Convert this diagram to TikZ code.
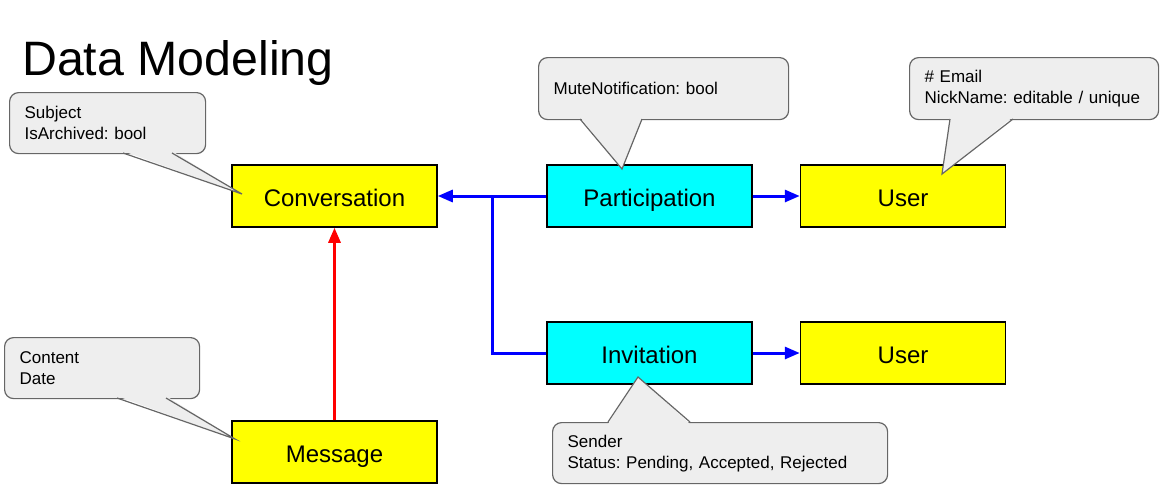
\documentclass[tikz,border=0pt]{standalone}
\usepackage{fontspec}
\setmainfont{Liberation Sans}
\usetikzlibrary{arrows.meta}
\frenchspacing
\definecolor{calloutfill}{HTML}{EEEEEE}
\definecolor{calloutline}{HTML}{666666}
\definecolor{pyellow}{RGB}{255,255,0}
\definecolor{pcyan}{RGB}{0,255,255}
\definecolor{pblue}{RGB}{0,0,255}
\definecolor{pred}{RGB}{255,0,0}
\tikzset{
  entity/.style={draw=black, line width=1.5pt, minimum width=205pt, minimum height=62pt, inner sep=0pt, text height=20pt, text depth=0pt, font=\fontsize{24}{28}\selectfont},
  yellowbox/.style={entity, fill=pyellow},
  cyanbox/.style={entity, fill=pcyan},
  callout/.style={draw=calloutline, line width=1.2pt, fill=calloutfill, rounded corners=9pt, anchor=north west, inner xsep=15pt, inner ysep=0pt, align=left, font=\fontsize{17}{21}\selectfont},
  tailfill/.style={fill=calloutfill},
  tailline/.style={draw=calloutline, line width=1.2pt, line join=miter},
  wire/.style={line width=3pt},
  conn/.style={wire, -{Triangle[length=15pt,width=12pt]}},
}
\begin{document}
\begin{tikzpicture}[x=1pt,y=-1pt]
\useasboundingbox (0,0) rectangle (1162,501);
% title
\node[anchor=base west, inner sep=0pt, font=\fontsize{48.3}{56}\selectfont] (title) at (22,75) {Data Modeling};
% entities
\node[yellowbox] (conv) at (334.5,196) {Conversation};
\node[cyanbox] (part) at (649.5,196) {Participation};
\node[yellowbox] (user1) at (903,196) {User};
\node[cyanbox] (inv) at (649.5,353) {Invitation};
\node[yellowbox] (user2) at (903,353) {User};
\node[yellowbox] (msg) at (334.5,452) {Message};
% connectors
\coordinate (j) at (492,196);
\draw[conn, pblue] (part.west) -- (conv.east);
\draw[wire, pblue] (inv.west) -| (j);
\draw[conn, pblue] (part.east) -- (user1.west);
\draw[conn, pblue] (inv.east) -- (user2.west);
\draw[conn, pred] (msg.north) -- (conv.south);
% callout 1: Conversation
\node[callout, minimum width=196pt, minimum height=61pt, text width=166pt] (c1) at (9,92) {Subject\\IsArchived: bool};
\fill[tailfill] (123,151) -- (242,194) -- (172,151) -- cycle;
\draw[tailline] (123,153) -- (242,194) -- (172,153);
% callout 2: Participation
\node[callout, minimum width=250pt, minimum height=62pt, text width=220pt] (c2) at (538,57) {MuteNotification: bool};
\fill[tailfill] (580,117) -- (622,169) -- (642,117) -- cycle;
\draw[tailline] (580,119) -- (622,169) -- (642,119);
% callout 3: User
\node[callout, minimum width=249pt, minimum height=62pt, text width=219pt] (c3) at (909,57) {\# Email\\NickName: editable / unique};
\fill[tailfill] (950,117) -- (942,174) -- (1013,117) -- cycle;
\draw[tailline] (950,119) -- (942,174) -- (1013,119);
% callout 4: Message
\node[callout, minimum width=195pt, minimum height=61pt, text width=165pt] (c4) at (4,337) {Content\\Date};
\fill[tailfill] (117,396) -- (235,439) -- (166,396) -- cycle;
\draw[tailline] (117,398) -- (235,439) -- (166,398);
% callout 5: Invitation
\node[callout, minimum width=335pt, minimum height=61pt, text width=305pt] (c5) at (552,422) {Sender\\Status: Pending, Accepted, Rejected};
\fill[tailfill] (608,424) -- (638,377) -- (690,424) -- cycle;
\draw[tailline] (608,422) -- (638,377) -- (690,422);
\end{tikzpicture}
\end{document}
